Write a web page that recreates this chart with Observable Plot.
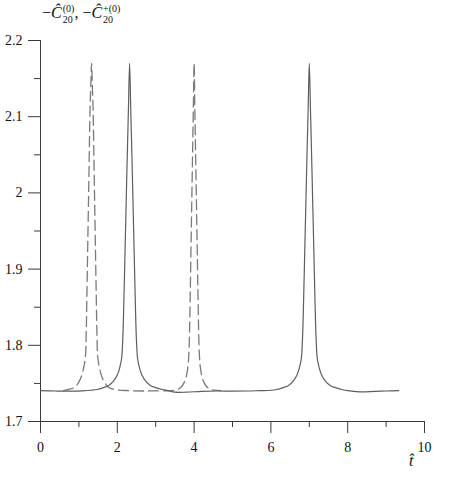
<!DOCTYPE html>
<html>
<head>
<meta charset="utf-8">
<script src="https://cdn.jsdelivr.net/npm/d3@7"></script>
<script src="https://cdn.jsdelivr.net/npm/@observablehq/plot@0.6"></script>
<style>
  html, body { margin: 0; padding: 0; background: #fff; }
  #wrap { position: relative; width: 449px; height: 479px; font-family: "Liberation Serif", "Times New Roman", serif; }
  #chart svg text { font-family: "Liberation Serif", "Times New Roman", serif; }
  #title { position: absolute; left: 42px; top: 2px; font-size: 16px; line-height: 22px; color: #111; white-space: nowrap; }
  .ss { display: inline-block; vertical-align: -5px; line-height: 11px; font-size: 10px; text-align: left; margin-left: 1px; }
  .ss span { display: block; }
  #xlab { position: absolute; left: 409px; top: 452px; font-size: 16px; font-style: italic; color: #111; }
</style>
</head>
<body>
<div id="wrap">
  <div id="chart"></div>
  <div id="title">−<i>Ĉ</i><span class="ss"><span>(0)</span><span>20</span></span>, −<i>Ĉ</i><span class="ss"><span>+(0)</span><span>20</span></span></div>
  <div id="xlab">t̂</div>
</div>
<script>
// Solid curve
const solidX = [0.00, 0.40, 0.80, 1.10, 1.32, 1.47, 1.64, 1.77, 1.90, 2.00, 2.06, 2.11, 2.14, 2.17, 2.20, 2.23, 2.26, 2.29, 2.32,
  2.35, 2.38, 2.41, 2.44, 2.47, 2.50, 2.53, 2.58, 2.64, 2.74, 2.87, 3.00, 3.17, 3.32, 3.50, 3.80, 4.20, 4.60, 5.00, 5.40, 5.70,
  6.00, 6.15, 6.32, 6.45, 6.58, 6.68, 6.74, 6.79, 6.82, 6.85, 6.88, 6.91, 6.94, 6.97, 7.00,
  7.03, 7.06, 7.09, 7.12, 7.15, 7.18, 7.21, 7.26, 7.32, 7.42, 7.55, 7.68, 7.85, 8.00, 8.30, 8.70, 9.00, 9.33];
const solidY = [1.7405, 1.7400, 1.7398, 1.7402, 1.7410, 1.7420, 1.7445, 1.747, 1.753, 1.761, 1.770, 1.782, 1.805, 1.855, 1.920, 1.985, 2.050, 2.110, 2.170,
  2.110, 2.050, 1.985, 1.920, 1.855, 1.805, 1.782, 1.770, 1.761, 1.753, 1.747, 1.7445, 1.742, 1.7405, 1.7385, 1.7385, 1.7395, 1.7400, 1.7398, 1.7400, 1.7405,
  1.7410, 1.7420, 1.7445, 1.747, 1.753, 1.761, 1.770, 1.782, 1.805, 1.855, 1.920, 1.985, 2.050, 2.110, 2.170,
  2.110, 2.050, 1.985, 1.920, 1.855, 1.805, 1.782, 1.770, 1.761, 1.753, 1.747, 1.7445, 1.742, 1.7405, 1.7390, 1.7395, 1.7400, 1.7405];

// Dashed curve
const dashX = [0.60, 0.73, 0.89, 0.99, 1.07, 1.13, 1.17, 1.19, 1.21, 1.23, 1.25, 1.27, 1.29, 1.31, 1.33,
  1.35, 1.37, 1.39, 1.41, 1.43, 1.45, 1.47, 1.49, 1.53, 1.59, 1.67, 1.77, 1.93, 2.30, 2.67, 3.05, 3.40,
  3.56, 3.66, 3.74, 3.80, 3.84, 3.86, 3.88, 3.90, 3.92, 3.94, 3.96, 3.98, 4.00,
  4.02, 4.04, 4.06, 4.08, 4.10, 4.12, 4.14, 4.16, 4.20, 4.26, 4.34, 4.44, 4.70];
const dashY = [1.7405, 1.7420, 1.7450, 1.7510, 1.7600, 1.7720, 1.7850, 1.8150, 1.870, 1.930, 1.990, 2.050, 2.110, 2.140, 2.170,
  2.140, 2.110, 2.050, 1.990, 1.930, 1.870, 1.8150, 1.7850, 1.7720, 1.7600, 1.7510, 1.7450, 1.7420, 1.7405, 1.7400, 1.7403, 1.7405,
  1.7420, 1.7450, 1.7510, 1.7600, 1.7720, 1.7850, 1.8150, 1.870, 1.930, 1.990, 2.050, 2.110, 2.170,
  2.110, 2.050, 1.990, 1.930, 1.870, 1.8150, 1.7850, 1.7720, 1.7600, 1.7510, 1.7450, 1.7420, 1.7405];

// Axis ticks
const xMajor = [0, 2, 4, 6, 8, 10];
const xMinor = [1, 3, 5, 7, 9];
const yMajor = [1.7, 1.8, 1.9, 2, 2.1, 2.2];
const yMinor = [1.75, 1.85, 1.95, 2.05, 2.15];

const solid = solidX.map((x, i) => ({x, y: solidY[i]}));
const dashed = dashX.map((x, i) => ({x, y: dashY[i]}));

const axisColor = "#3a3a3a";

const chart = Plot.plot({
  width: 449,
  height: 479,
  marginLeft: 40,
  marginRight: 25,
  marginTop: 40,
  marginBottom: 58,
  x: {domain: [0, 10], label: null},
  y: {domain: [1.7, 2.2], label: null},
  style: {fontFamily: "'Liberation Serif', 'Times New Roman', serif", fontSize: "14px", color: "#111", background: "white"},
  marks: [
    Plot.axisY(yMajor, {tickSize: 12, tickPadding: 6, tickFormat: d => String(d), stroke: axisColor, label: null}),
    Plot.axisY(yMinor, {tickSize: 6, tickFormat: () => "", stroke: axisColor, label: null}),
    Plot.axisX(xMajor, {tickSize: 12, tickPadding: 9, tickFormat: d => String(d), stroke: axisColor, label: null}),
    Plot.axisX(xMinor, {tickSize: 6, tickFormat: () => "", stroke: axisColor, label: null}),
    Plot.ruleX([0], {stroke: axisColor}),
    Plot.ruleY([1.7], {stroke: axisColor}),
    Plot.line(dashed, {x: "x", y: "y", stroke: "#7a7a7a", strokeWidth: 1.3, strokeDasharray: "10,5", curve: "catmull-rom"}),
    Plot.line(solid, {x: "x", y: "y", stroke: "#5e5e5e", strokeWidth: 1.2, curve: "catmull-rom"})
  ]
});
document.getElementById("chart").appendChild(chart);
</script>
</body>
</html>
